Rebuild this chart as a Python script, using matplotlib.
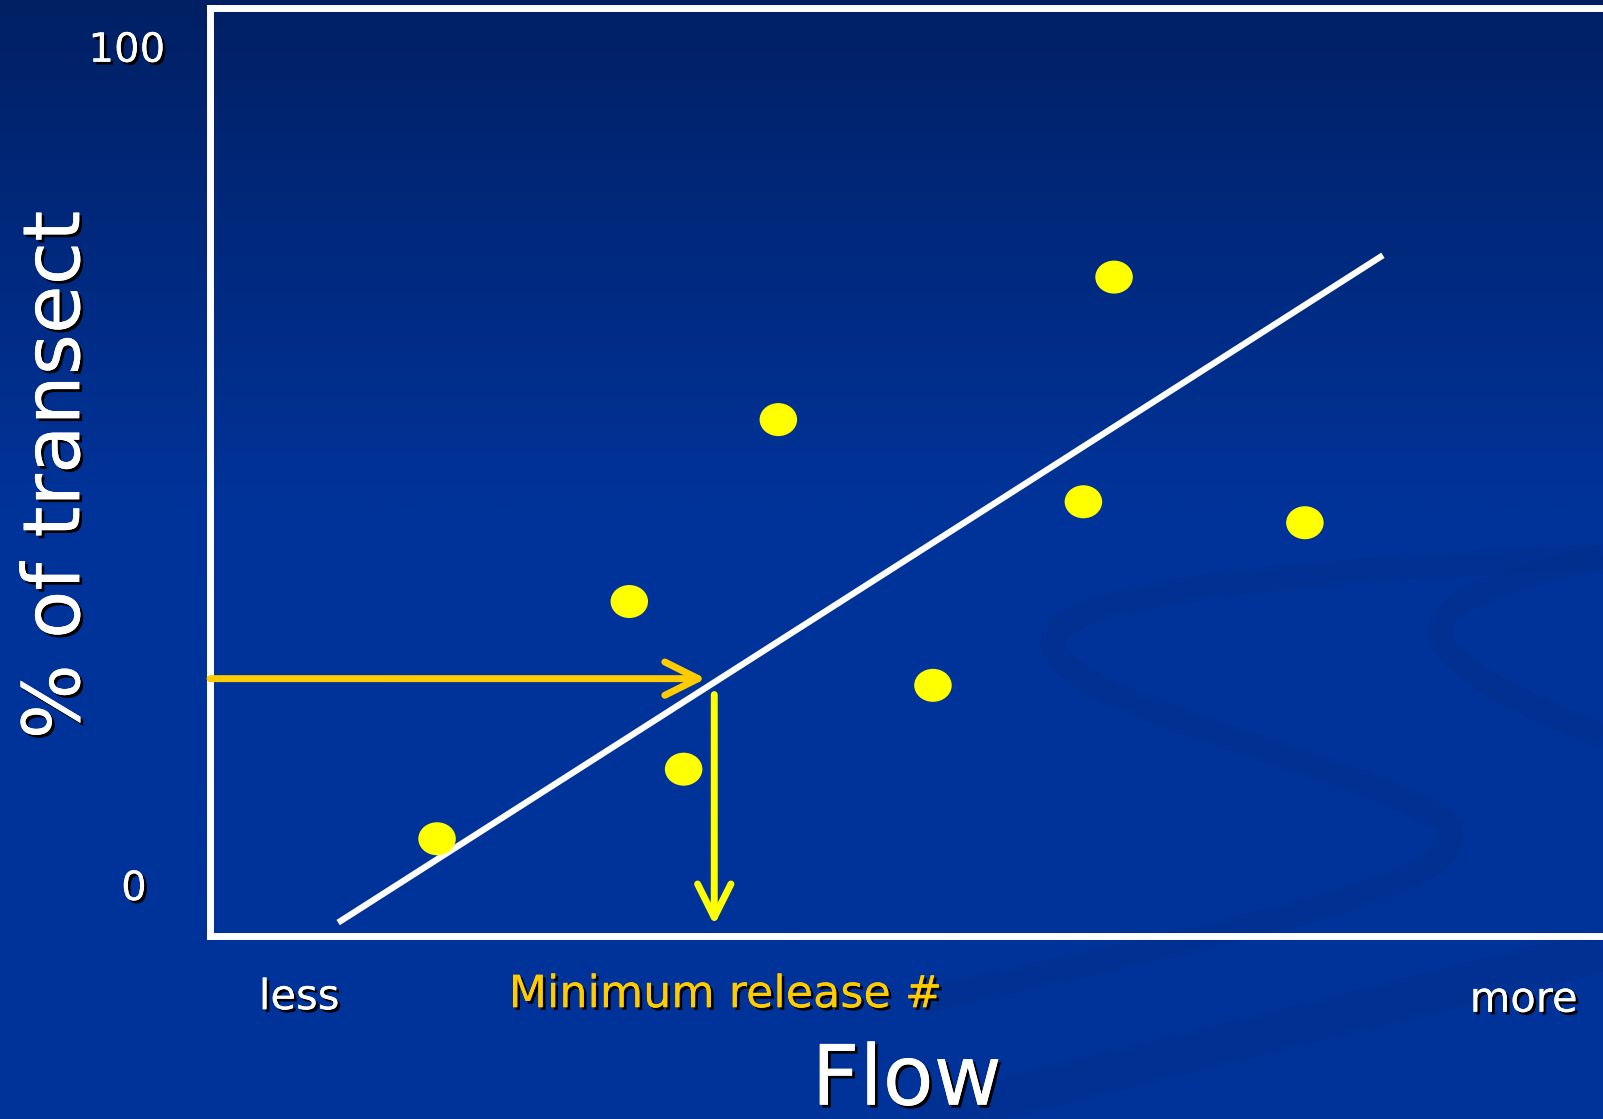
import numpy as np
import matplotlib
matplotlib.use("Agg")
import matplotlib.pyplot as plt
import matplotlib.patheffects as pe
from matplotlib.path import Path
from matplotlib.patches import PathPatch

# data (flow units arbitrary 0-100, y in % of transect)
flow = [16.3, 30.1, 34.0, 40.8, 51.9, 62.7, 64.9, 78.6]
pct = [6.0, 34.3, 14.3, 56.0, 24.3, 46.2, 73.0, 43.7]
fit_x = [9.2, 84.2]
fit_y = [-4.0, 75.6]
target_pct = 25.1
min_release = 36.2
y_ticks = [0, 100]
y_ticklabels = ["0", "100"]

W, H = 1603, 1119
fig = plt.figure(figsize=(W / 100, H / 100), dpi=100)

# background gradient, dark navy at top
bg = fig.add_axes([0, 0, 1, 1], zorder=0)
top = np.array([1, 32, 100]) / 255
mid = np.array([0, 51, 153]) / 255
t = np.clip(np.linspace(0, 1, 400) / 0.45, 0, 1)[:, None]
grad = top * (1 - t) + mid * t
bg.imshow(grad[:, None, :], aspect="auto", extent=[0, 1, 0, 1], origin="upper")
bg.set_xlim(0, 1)
bg.set_ylim(0, 1)
bg.axis("off")

# faint s-shaped swooshes of the template
def px(x, y):
    return (x / 1568, 1 - y / 1095)

band = "#00308f"
s1 = [px(1568, 545), px(1250, 560), px(1030, 580), px(1030, 630),
      px(1040, 690), px(1300, 740), px(1410, 800),
      px(1470, 860), px(1250, 900), px(900, 980)]
codes = [Path.MOVETO] + [Path.CURVE4] * 9
bg.add_patch(PathPatch(Path(s1, codes), fill=False, lw=18, ec=band, alpha=0.8))
s2 = [px(1568, 545), px(1450, 570), px(1380, 600), px(1420, 640),
      px(1460, 680), px(1520, 700), px(1568, 720)]
codes2 = [Path.MOVETO] + [Path.CURVE4] * 6
bg.add_patch(PathPatch(Path(s2, codes2), fill=False, lw=18, ec=band, alpha=0.8))
bg.plot([px(900, 1095)[0], px(1568, 930)[0]], [px(900, 1095)[1], px(1568, 930)[1]],
        color=band, lw=30, alpha=0.7, solid_capstyle="butt")

ax = fig.add_axes([210 / W, 1 - 936 / H, 1 - 210 / W, (936 - 8) / H], zorder=1)
ax.set_facecolor("none")
ax.set_xlim(0, 100)
ax.set_ylim(-5.6, 105.1)
for s in ["left", "top", "bottom"]:
    ax.spines[s].set_color("white")
    ax.spines[s].set_linewidth(5)
ax.spines["right"].set_visible(False)
ax.set_xticks([])
ax.set_yticks([])

shadow = [pe.withSimplePatchShadow(offset=(2, -2), shadow_rgbFace="black", alpha=1), pe.Normal()]

# slightly flattened dot marker
circ = Path.unit_circle()
oval = Path(circ.vertices * [1.0, 0.88], circ.codes)

ax.plot(fit_x, fit_y, color="white", lw=4.5, solid_capstyle="butt", clip_on=False)
ax.scatter(flow, pct, s=27 ** 2, marker=oval, color="#ffff00", edgecolors="none", zorder=3)

ax.annotate("", xy=(min_release - 0.6, target_pct), xytext=(0, target_pct),
            arrowprops=dict(arrowstyle="->,head_length=0.6,head_width=0.3",
                            color="#ffcc00", lw=5, mutation_scale=40,
                            shrinkA=0, shrinkB=0, capstyle="round", joinstyle="round"))
ax.annotate("", xy=(min_release, -4.3), xytext=(min_release, 23.2),
            arrowprops=dict(arrowstyle="->,head_length=0.6,head_width=0.3",
                            color="#ffff00", lw=5, mutation_scale=40,
                            shrinkA=0, shrinkB=0, capstyle="round", joinstyle="round"))

font = "DejaVu Sans"
ax.text(-44 / 1363 * 100, y_ticks[1], y_ticklabels[1], ha="right", va="center",
        color="white", fontsize=29, family=font, path_effects=shadow)
ax.text(-62 / 1363 * 100, y_ticks[0], y_ticklabels[0], ha="right", va="center",
        color="white", fontsize=29, family=font, path_effects=shadow)
fig.text(56 / 1568, 1 - 465 / 1095, "% of transect", rotation=90, ha="center", va="center",
         color="white", fontsize=57, family=font, path_effects=shadow)

ax.text(6.4, -12.9, "less", ha="center", va="center", color="white",
        fontsize=30, family=font, path_effects=shadow)
ax.text(37.0, -12.6, "Minimum release #", ha="center", va="center", color="#ffcc00",
        fontsize=32, family=font, path_effects=shadow)
ax.text(94.3, -13.2, "more", ha="center", va="center", color="white",
        fontsize=30, family=font, path_effects=shadow)
fig.text(887 / 1568, 1 - 1058 / 1095, "Flow", ha="center", va="center",
         color="white", fontsize=60, family=font, path_effects=shadow)

fig.savefig("out.png", dpi=100)
